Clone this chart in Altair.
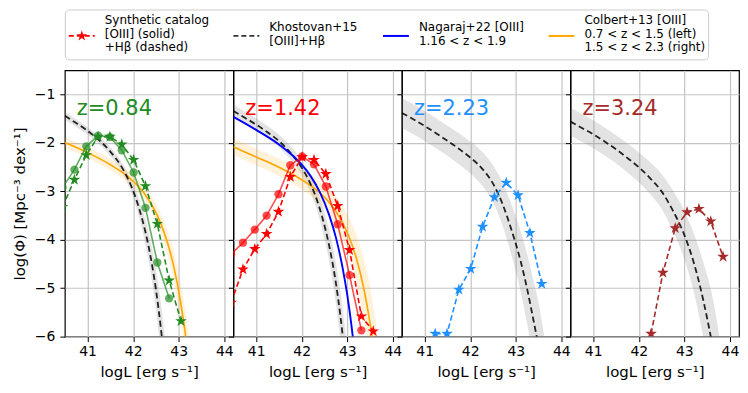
import altair as alt
import pandas as pd

# ---------------------------------------------------------------- data
PANEL_LABELS = ["z=0.84", "z=1.42", "z=2.23", "z=3.24"]
PANEL_COLORS = ["#228B22", "#FF0000", "#1E90FF", "#A52A2A"]

# Synthetic catalog, [OIII] only (solid line, circles)
Z084_OIII_X = [40.45, 40.71, 40.97, 41.23, 41.49, 41.75, 42.01, 42.27, 42.53, 42.79]
Z084_OIII_Y = [-2.92, -2.55, -2.07, -1.85, -1.88, -2.15, -2.61, -3.34, -4.47, -5.21]
Z142_OIII_X = [40.45, 40.71, 40.97, 41.23, 41.49, 41.75, 42.01, 42.27, 42.53, 42.79, 43.05, 43.31]
Z142_OIII_Y = [-4.30, -4.06, -3.79, -3.50, -3.06, -2.46, -2.28, -2.44, -2.90, -3.68, -4.73, -5.87]

# Synthetic catalog, [OIII]+Hbeta (dashed line, stars)
Z084_HB_X = [40.45, 40.71, 40.97, 41.23, 41.49, 41.75, 42.01, 42.27, 42.53, 42.79, 43.05]
Z084_HB_Y = [-3.32, -2.76, -2.25, -1.87, -1.87, -2.03, -2.35, -2.89, -3.67, -4.84, -5.68]
Z142_HB_X = [40.45, 40.71, 40.97, 41.23, 41.49, 41.75, 42.01, 42.27, 42.53, 42.79, 43.05, 43.31, 43.57]
Z142_HB_Y = [-5.30, -4.61, -4.19, -3.88, -3.42, -2.70, -2.29, -2.35, -2.64, -3.30, -4.21, -5.58, -5.89]
Z223_HB_X = [41.23, 41.49, 41.75, 42.01, 42.27, 42.53, 42.79, 43.05, 43.31, 43.57]
Z223_HB_Y = [-5.94, -5.94, -5.03, -4.60, -3.73, -3.12, -2.82, -3.08, -3.86, -4.91]
Z324_HB_X = [42.27, 42.53, 42.80, 43.06, 43.32, 43.58, 43.85]
Z324_HB_Y = [-5.94, -4.68, -3.76, -3.43, -3.36, -3.62, -4.35]

# Khostovan+15 [OIII]+Hbeta (dashed black line with grey band)
K084_X = [40.5, 40.75, 41.0, 41.25, 41.5, 41.75, 41.9, 42.05, 42.2, 42.35, 42.5, 42.6, 42.7, 42.8]
K084_MID = [-1.44, -1.59, -1.75, -1.94, -2.18, -2.50, -2.77, -3.12, -3.58, -4.19, -5.03, -5.76, -6.66, -7.70]
K084_HI = [-1.36, -1.51, -1.67, -1.86, -2.09, -2.40, -2.65, -2.96, -3.36, -3.89, -4.61, -5.24, -6.04, -7.00]
K084_LO = [-1.52, -1.67, -1.83, -2.02, -2.27, -2.60, -2.89, -3.28, -3.80, -4.49, -5.45, -6.28, -7.28, -8.40]

K142_X = [40.5, 40.75, 41.0, 41.25, 41.5, 41.75, 42.0, 42.15, 42.3, 42.45, 42.6, 42.75, 42.85, 42.95, 43.05]
K142_MID = [-1.34, -1.48, -1.62, -1.78, -1.96, -2.20, -2.51, -2.76, -3.09, -3.53, -4.11, -4.89, -5.58, -6.42, -7.40]
K142_HI = [-1.21, -1.35, -1.49, -1.65, -1.83, -2.06, -2.36, -2.59, -2.89, -3.28, -3.79, -4.47, -5.08, -5.84, -6.70]
K142_LO = [-1.47, -1.61, -1.75, -1.91, -2.09, -2.34, -2.66, -2.93, -3.29, -3.78, -4.43, -5.31, -6.08, -7.00, -8.10]

K223_X = [40.5, 40.75, 41.0, 41.25, 41.5, 41.75, 42.0, 42.25, 42.5, 42.7, 42.9, 43.1, 43.25, 43.4, 43.5, 43.6, 43.7]
K223_MID = [-1.38, -1.51, -1.65, -1.80, -1.955, -2.12, -2.30, -2.52, -2.84, -3.24, -3.78, -4.42, -5.02, -5.72, -6.20, -6.75, -7.35]
K223_HI = [-1.07, -1.20, -1.34, -1.49, -1.645, -1.80, -1.97, -2.17, -2.46, -2.80, -3.26, -3.80, -4.30, -4.90, -5.30, -5.85, -6.50]
K223_LO = [-1.69, -1.82, -1.96, -2.11, -2.265, -2.44, -2.63, -2.87, -3.22, -3.68, -4.30, -5.04, -5.74, -6.54, -7.10, -7.80, -8.50]

K324_X = [40.5, 40.75, 41.0, 41.25, 41.5, 41.75, 42.0, 42.25, 42.5, 42.75, 43.0, 43.2, 43.35, 43.5, 43.6, 43.75, 43.85]
K324_MID = [-1.56, -1.69, -1.82, -1.97, -2.13, -2.31, -2.50, -2.73, -3.00, -3.40, -3.90, -4.45, -4.98, -5.62, -6.10, -6.95, -7.60]
K324_HI = [-1.27, -1.40, -1.53, -1.68, -1.84, -2.01, -2.19, -2.40, -2.64, -2.98, -3.40, -3.85, -4.26, -4.74, -5.10, -5.90, -6.60]
K324_LO = [-1.85, -1.98, -2.11, -2.26, -2.42, -2.61, -2.81, -3.06, -3.36, -3.82, -4.40, -5.05, -5.70, -6.50, -7.10, -8.00, -8.80]

# Colbert+13 [OIII] (orange line with light band): 0.7<z<1.5 (left), 1.5<z<2.3 (right)
C_LEFT_X = [40.5, 41.0, 41.5, 42.0, 42.25, 42.5, 42.6, 42.75, 42.9, 43.0, 43.1, 43.2, 43.3, 43.4]
C_LEFT_MID = [-1.99, -2.20, -2.45, -2.79, -3.05, -3.44, -3.65, -4.05, -4.59, -5.06, -5.64, -6.35, -7.25, -8.30]
C_LEFT_HI = [-1.88, -2.09, -2.33, -2.66, -2.90, -3.26, -3.45, -3.80, -4.27, -4.68, -5.19, -5.83, -6.65, -7.66]
C_LEFT_LO = [-2.10, -2.31, -2.57, -2.92, -3.20, -3.62, -3.85, -4.30, -4.91, -5.44, -6.09, -6.87, -7.85, -9.06]

C_RIGHT_X = [40.5, 41.0, 41.5, 42.0, 42.5, 42.75, 43.0, 43.2, 43.35, 43.5, 43.6, 43.7, 43.8]
C_RIGHT_MID = [-2.08, -2.29, -2.50, -2.76, -3.12, -3.41, -3.85, -4.38, -4.95, -5.72, -6.39, -7.20, -8.10]
C_RIGHT_HI = [-1.91, -2.12, -2.32, -2.56, -2.87, -3.11, -3.47, -3.90, -4.35, -4.97, -5.54, -6.25, -7.05]
C_RIGHT_LO = [-2.25, -2.46, -2.68, -2.96, -3.37, -3.71, -4.23, -4.86, -5.55, -6.47, -7.24, -8.15, -9.15]

# Nagaraj+22 [OIII] 1.16<z<1.9 (blue line)
N_X = [40.5, 41.0, 41.5, 41.8, 42.0, 42.2, 42.4, 42.6, 42.75, 42.9, 43.0, 43.1, 43.2]
N_Y = [-1.46, -1.73, -2.03, -2.26, -2.45, -2.69, -3.02, -3.48, -3.95, -4.59, -5.14, -5.83, -6.70]

X_TICKS = [41, 42, 43, 44]
Y_TICKS = [-6, -5, -4, -3, -2, -1]

LEGEND_LABELS = [
    "Synthetic catalog\n[OIII] (solid)\n+Hβ (dashed)",
    "Khostovan+15\n[OIII]+Hβ",
    "Nagaraj+22 [OIII]\n1.16 < z < 1.9",
    "Colbert+13 [OIII]\n0.7 < z < 1.5 (left)\n1.5 < z < 2.3 (right)",
]
LEGEND_COLORS = ["#FF0000", "#333333", "#0000FF", "#FFA500"]

# ---------------------------------------------------------------- layout / style
PANEL_W, PANEL_H = 169, 267
LEG_W, LEG_H = 645, 50
LEG_TEXT_X = [40, 205, 355, 521]
LEG_SYM_X1 = [4, 169, 319, 485]
LEG_SYM_X2 = [30, 195, 345, 511]
LEG_SYM_Y = 26.5
LEG_TEXT_CY = 24.5
LEG_LINE_H = 13.5
FONT = "DejaVu Sans"

STAR = ("M0,-1L0.2245,-0.309L0.9511,-0.309L0.3633,0.118L0.5878,0.809L0,0.382"
        "L-0.5878,0.809L-0.3633,0.118L-0.9511,-0.309L-0.2245,-0.309Z")

X_SCALE = alt.Scale(domain=[40.5, 44.2], nice=False, zero=False)
Y_SCALE = alt.Scale(domain=[-6.0, -0.5], nice=False, zero=False)
X_AXIS = alt.Axis(values=X_TICKS, format="d", title="logL [erg s⁻¹]", grid=True)
Y_AXIS_FIRST = alt.Axis(values=Y_TICKS, format="d", title="log(Φ) [Mpc⁻³ dex⁻¹]", grid=True)
Y_AXIS_OTHER = alt.Axis(values=Y_TICKS, labels=False, title=None, grid=True)


def xe(field):
    return alt.X(f"{field}:Q", scale=X_SCALE, axis=X_AXIS)


def ye(field, first):
    return alt.Y(f"{field}:Q", scale=Y_SCALE, axis=Y_AXIS_FIRST if first else Y_AXIS_OTHER)


def band_layers(xs, mid, hi, lo, color, band_opacity, first, line_kwargs):
    df = pd.DataFrame({"x": xs, "mid": mid, "hi": hi, "lo": lo})
    band = alt.Chart(df).mark_area(clip=True, color=color, opacity=band_opacity,
                                   interpolate="monotone").encode(
        x=xe("x"), y=ye("lo", first), y2="hi:Q")
    line = alt.Chart(df).mark_line(clip=True, interpolate="monotone", **line_kwargs).encode(
        x=xe("x"), y=ye("mid", first))
    return band, line


def synth_layers(xs, ys, color, first, dashed):
    df = pd.DataFrame({"x": xs, "y": ys})
    if dashed:
        line = alt.Chart(df).mark_line(clip=True, color=color, strokeWidth=1.6,
                                       strokeDash=[5.5, 3]).encode(x=xe("x"), y=ye("y", first))
        pts = alt.Chart(df).mark_point(clip=True, shape=STAR, filled=True, color=color,
                                       size=150, opacity=1).encode(x=xe("x"), y=ye("y", first))
    else:
        line = alt.Chart(df).mark_line(clip=True, color=color, strokeWidth=1.6,
                                       opacity=0.7).encode(x=xe("x"), y=ye("y", first))
        pts = alt.Chart(df).mark_point(clip=True, shape="circle", filled=True, color=color,
                                       size=70, opacity=0.7).encode(x=xe("x"), y=ye("y", first))
    return [line, pts]


K_SETS = [(K084_X, K084_MID, K084_HI, K084_LO), (K142_X, K142_MID, K142_HI, K142_LO),
          (K223_X, K223_MID, K223_HI, K223_LO), (K324_X, K324_MID, K324_HI, K324_LO)]
OIII_SETS = [(Z084_OIII_X, Z084_OIII_Y), (Z142_OIII_X, Z142_OIII_Y), None, None]
HB_SETS = [(Z084_HB_X, Z084_HB_Y), (Z142_HB_X, Z142_HB_Y), (Z223_HB_X, Z223_HB_Y), (Z324_HB_X, Z324_HB_Y)]
C_SETS = [(C_LEFT_X, C_LEFT_MID, C_LEFT_HI, C_LEFT_LO), (C_RIGHT_X, C_RIGHT_MID, C_RIGHT_HI, C_RIGHT_LO), None, None]

panels = []
for i in range(4):
    first = i == 0
    col = PANEL_COLORS[i]
    kb, kl = band_layers(*K_SETS[i], "gray", 0.22, first,
                         dict(color="black", opacity=0.85, strokeWidth=1.8, strokeDash=[6, 3.5]))
    bands = [kb]
    lines = []
    if C_SETS[i] is not None:
        cb, cl = band_layers(*C_SETS[i], "orange", 0.15, first,
                             dict(color="#FFA500", strokeWidth=1.6))
        bands.append(cb)
        lines.append(cl)
    lines.append(kl)
    if i == 1:
        ndf = pd.DataFrame({"x": N_X, "y": N_Y})
        lines.append(alt.Chart(ndf).mark_line(clip=True, color="#0000FF", strokeWidth=1.9,
                                              interpolate="monotone").encode(x=xe("x"), y=ye("y", first)))
    synth = []
    if OIII_SETS[i] is not None:
        synth += synth_layers(*OIII_SETS[i], col, first, dashed=False)
    synth += synth_layers(*HB_SETS[i], col, first, dashed=True)
    label = alt.Chart(pd.DataFrame({"t": [PANEL_LABELS[i]]})).mark_text(
        align="left", baseline="alphabetic", fontSize=21, font=FONT, color=col).encode(
        text="t:N", x=alt.value(12), y=alt.value(45))
    panels.append(alt.layer(*bands, *lines, *synth, label).properties(width=PANEL_W, height=PANEL_H))

row = alt.hconcat(*panels, spacing=0, bounds="flush")

# ---------------------------------------------------------------- legend box
n_lines = [lab.count("\n") + 1 for lab in LEGEND_LABELS]
leg_text = pd.DataFrame({
    "x": LEG_TEXT_X,
    "y": [LEG_TEXT_CY - (n - 1) * LEG_LINE_H / 2 for n in n_lines],
    "t": LEGEND_LABELS,
})
leg_sym = pd.DataFrame({"x1": LEG_SYM_X1, "x2": LEG_SYM_X2, "c": LEGEND_COLORS,
                        "dashed": [True, True, False, False]})
leg_layers = [
    alt.Chart(leg_sym).transform_filter("datum.dashed").mark_rule(strokeWidth=1.8, strokeDash=[5, 3]).encode(
        x=alt.X("x1:Q", scale=None), x2="x2:Q", y=alt.value(LEG_SYM_Y), color=alt.Color("c:N", scale=None)),
    alt.Chart(leg_sym).transform_filter("!datum.dashed").mark_rule(strokeWidth=2).encode(
        x=alt.X("x1:Q", scale=None), x2="x2:Q", y=alt.value(LEG_SYM_Y), color=alt.Color("c:N", scale=None)),
    alt.Chart(leg_sym.iloc[[0]]).transform_calculate(xm="(datum.x1 + datum.x2) / 2").mark_point(
        shape=STAR, filled=True, size=130, opacity=1).encode(
        x=alt.X("xm:Q", scale=None), y=alt.value(LEG_SYM_Y), color=alt.Color("c:N", scale=None)),
    alt.Chart(leg_text).mark_text(align="left", baseline="middle", lineBreak="\n", fontSize=12,
                                  lineHeight=LEG_LINE_H, font=FONT, color="black").encode(
        x=alt.X("x:Q", scale=None), y=alt.Y("y:Q", scale=None), text="t:N"),
]
legend = alt.layer(*leg_layers).properties(
    width=LEG_W, height=LEG_H,
    view=alt.ViewBackground(stroke="#cccccc", strokeWidth=1, cornerRadius=4, fill="white"))

chart = alt.vconcat(legend, row, spacing=11, bounds="flush").configure(
    font=FONT, padding={"left": 3, "top": 0, "right": 0, "bottom": 0}
).configure_axis(
    labelFontSize=14, titleFontSize=15, labelColor="black", titleColor="black",
    tickColor="black", tickSize=5, tickWidth=1, domain=False, gridColor="#c4c4c4",
    gridWidth=1.2, titleFontWeight="normal", labelFont=FONT, titleFont=FONT
).configure_axisX(labelPadding=3, titlePadding=6).configure_axisY(
    labelPadding=5, titlePadding=7
).configure_view(stroke="black", strokeWidth=1.2)

chart.save("out.html", embed_options={"renderer": "svg", "actions": False})
